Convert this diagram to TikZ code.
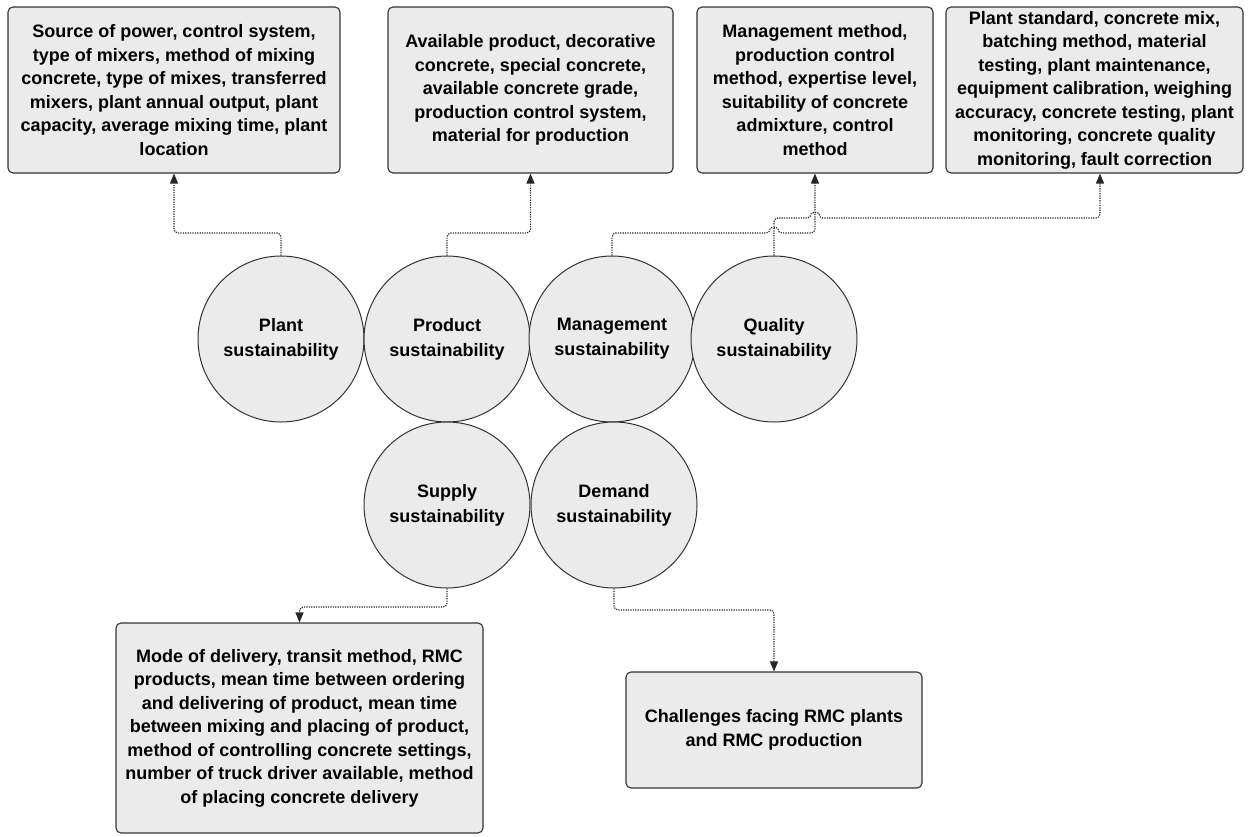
\documentclass[tikz,border=0pt]{standalone}
\usepackage{fontspec}
\setmainfont{Liberation Sans}
\usetikzlibrary{arrows.meta,calc}
\begin{document}
\begin{tikzpicture}[x=1pt,y=-1pt,
  box/.style={draw=black!80, line width=1.1pt, fill=black!8, rounded corners=5pt, align=center, inner sep=0pt, font=\bfseries\fontsize{18}{23.5}\selectfont},
  circ/.style={draw=black!80, line width=1pt, fill=black!8, circle, minimum size=166pt, inner sep=0pt, align=center, font=\bfseries\fontsize{18}{25}\selectfont},
  conn/.style={draw=black!85, line width=1.2pt, dash pattern=on 1.2pt off 1.2pt, rounded corners=4pt, -{Triangle[length=10pt,width=8pt]}}]
\useasboundingbox (0,0) rectangle (1253,836);

% top boxes
\node[box, minimum width=332pt, minimum height=166pt] (b1) at (174,90)
  {Source of power, control system,\\type of mixers, method of mixing\\concrete, type of mixes, transferred\\mixers, plant annual output, plant\\capacity, average mixing time, plant\\location};
\node[box, minimum width=285pt, minimum height=166pt] (b2) at (530.5,90)
  {Available product, decorative\\concrete, special concrete,\\available concrete grade,\\production control system,\\material for production};
\node[box, minimum width=236pt, minimum height=166pt] (b3) at (815,90)
  {Management method,\\production control\\method, expertise level,\\suitability of concrete\\admixture, control\\method};
\node[box, minimum width=297pt, minimum height=166pt] (b4) at (1094.5,90)
  {Plant standard, concrete mix,\\batching method, material\\testing, plant maintenance,\\equipment calibration, weighing\\accuracy, concrete testing, plant\\monitoring, concrete quality\\monitoring, fault correction};

% circles
\node[circ] (pl) at (281,339) {Plant\\sustainability};
\node[circ] (pr) at (447,339) {Product\\sustainability};
\node[circ] (mg) at (612,339) {Management\\sustainability};
\node[circ] (qu) at (774,339) {Quality\\sustainability};
\node[circ] (su) at (447,505) {Supply\\sustainability};
\node[circ] (de) at (614,505) {Demand\\sustainability};

% bottom boxes
\node[box, minimum width=367pt, minimum height=210pt] (b5) at (299.5,728)
  {Mode of delivery, transit method, RMC\\products, mean time between ordering\\and delivering of product, mean time\\between mixing and placing of product,\\method of controlling concrete settings,\\number of truck driver available, method\\of placing concrete delivery};
\node[box, minimum width=296pt, minimum height=116pt] (b6) at (774,730)
  {Challenges facing RMC plants\\and RMC production};

% connectors
\draw[conn] (pl.north) -- (pl.north |- 0,233) -| (b1.south);
\draw[conn] (pr.north) -- (pr.north |- 0,233) -| (b2.south);
\draw[conn] (mg.north) -- (mg.north |- 0,233) -- ($(qu.north |- 0,233)+(-4,0)$)
  .. controls ($(qu.north |- 0,233)+(-4,-6)$) and ($(qu.north |- 0,233)+(4,-6)$) .. ($(qu.north |- 0,233)+(4,0)$)
  -- (b3.south |- 0,233) -- (b3.south);
\draw[conn] (qu.north) -- (qu.north |- 0,218) -- ($(b3.south |- 0,218)+(-4,0)$)
  .. controls ($(b3.south |- 0,218)+(-4,-6)$) and ($(b3.south |- 0,218)+(4,-6)$) .. ($(b3.south |- 0,218)+(4,0)$)
  -- ($(b4.south |- 0,218)+(5.5,0)$) -- ($(b4.south)+(5.5,0)$);
\draw[conn] (su.south) -- (su.south |- 0,607) -| (b5.north);
\draw[conn] (de.south) -- (de.south |- 0,610) -| (b6.north);
\end{tikzpicture}
\end{document}
